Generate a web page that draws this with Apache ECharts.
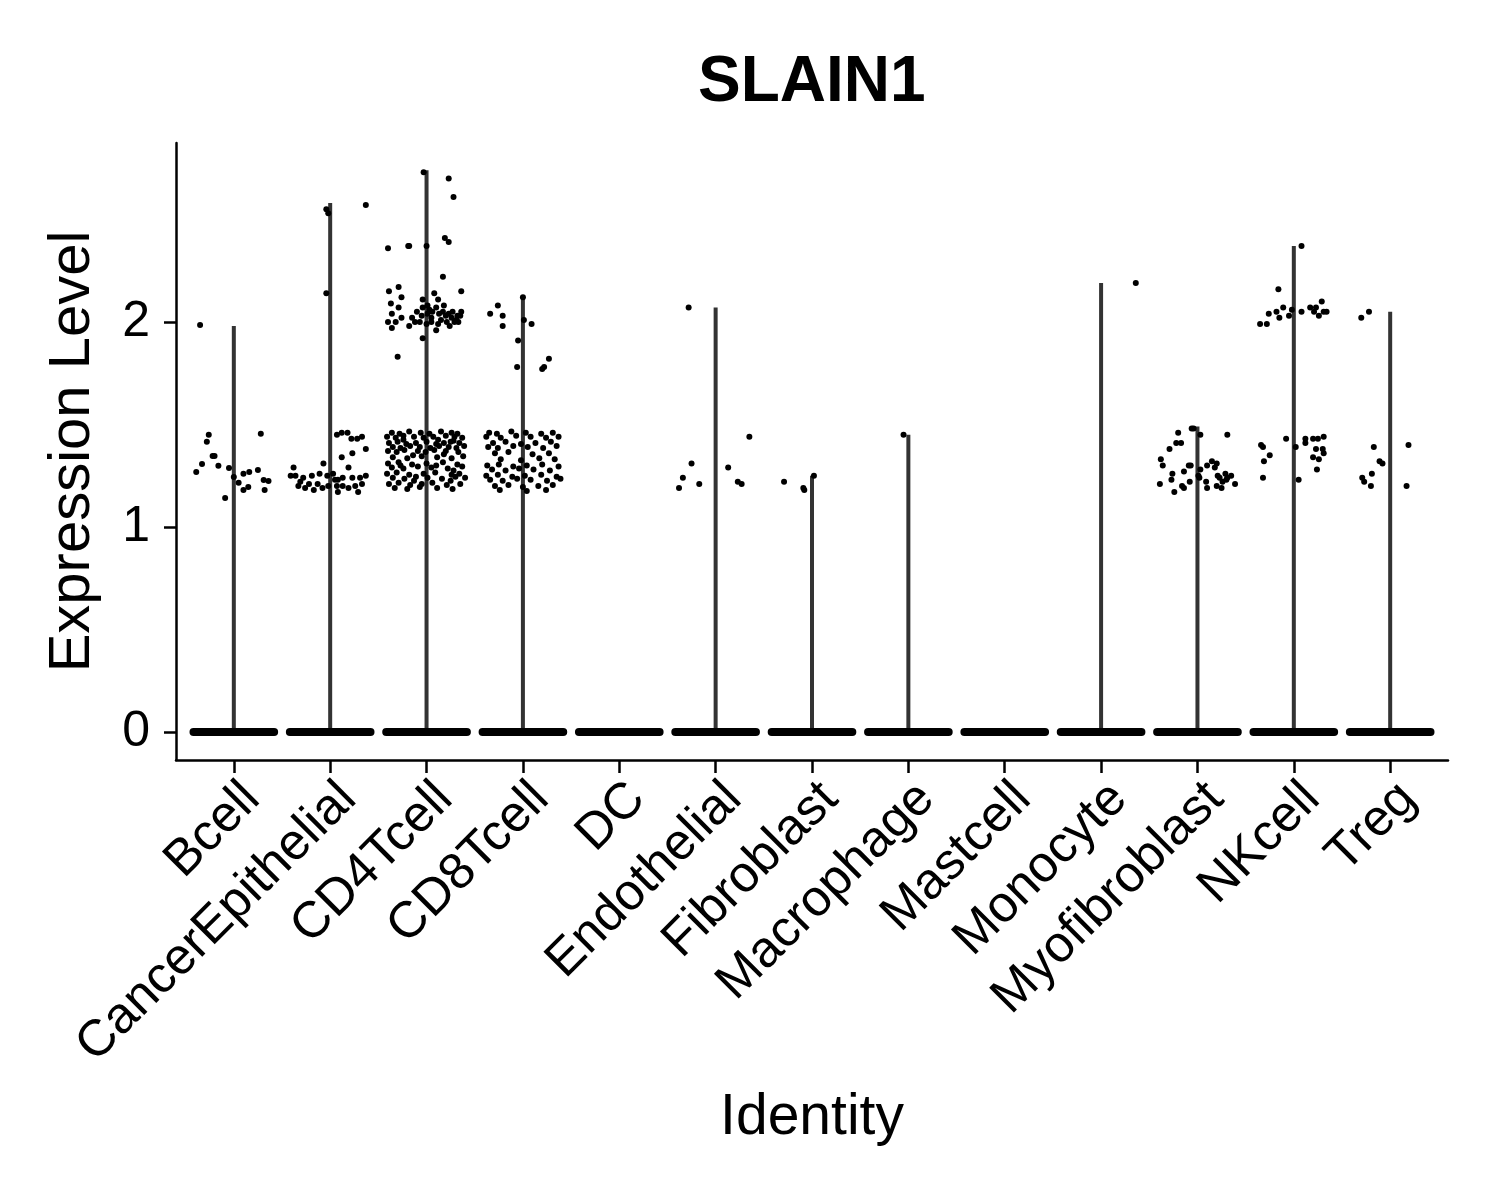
<!DOCTYPE html>
<html>
<head>
<meta charset="utf-8">
<script src="https://cdn.jsdelivr.net/npm/echarts@6/dist/echarts.min.js"></script>
<style>
  html, body { margin: 0; padding: 0; background: #fff; }
  #main { width: 1500px; height: 1200px; }
</style>
</head>
<body>
<div id="main"></div>
<script>
var categories = ["Bcell", "CancerEpithelial", "CD4Tcell", "CD8Tcell", "DC", "Endothelial",
  "Fibroblast", "Macrophage", "Mastcell", "Monocyte", "Myofibroblast", "NKcell", "Treg"];

// top of the (very thin) violin for each identity; null = no violin above 0
var violinMax = [1.98, 2.58, 2.74, 2.12, null, 2.07, 1.25, 1.45, null, 2.19, 1.49, 2.37, 2.05];

// jittered cells with expression > 0, as [jitter, value]
var bcellPts = [[-0.35, 1.985], [-0.26, 1.45], [-0.28, 1.415], [-0.22, 1.346], [-0.2, 1.346],
  [-0.33, 1.307], [-0.39, 1.268], [-0.16, 1.298], [-0.05, 1.288], [-0.09, 1.141], [0, 1.244],
  [0.05, 1.215], [0.1, 1.259], [0.16, 1.268], [0.25, 1.278], [0.15, 1.195], [0.1, 1.18],
  [0.28, 1.454], [0.31, 1.229], [0.36, 1.224], [0.32, 1.18]];

var cancerEpiPts = [[-0.04, 2.55], [-0.02, 2.53], [0.37, 2.57], [-0.04, 2.14],
  [0.07, 1.45], [0.12, 1.46], [0.18, 1.46], [0.22, 1.43], [0.28, 1.43], [0.33, 1.44],
  [0.37, 1.38], [0.12, 1.34], [0.23, 1.36], [-0.38, 1.29], [-0.07, 1.31], [0.19, 1.29],
  [-0.36, 1.25], [-0.28, 1.24], [-0.19, 1.25], [-0.11, 1.26], [-0.03, 1.25], [0.03, 1.26],
  [0.08, 1.23], [0.13, 1.24], [0.31, 1.24], [0.37, 1.25], [-0.33, 1.2], [-0.26, 1.19],
  [-0.22, 1.21], [-0.08, 1.19], [-0.02, 1.2], [0.07, 1.2], [0.13, 1.2], [0.19, 1.19],
  [0.29, 1.17], [0.33, 1.21], [0.08, 1.17], [-0.13, 1.21], [0.05, 1.23], [-0.31, 1.22],
  [-0.17, 1.18], [0.23, 1.24], [0.26, 1.2], [-0.41, 1.25]];

var cd4Pts = [[-0.03, 2.73], [0.23, 2.7], [0.28, 2.61], [-0.4, 2.36], [-0.19, 2.37], [-0.18, 2.37],
  [0, 2.37], [0.19, 2.41], [0.23, 2.39], [0.17, 2.22], [0.36, 2.15], [-0.39, 2.15], [-0.29, 2.17],
  [-0.26, 2.12], [-0.37, 2.09], [-0.29, 2.07], [-0.36, 2.04], [-0.4, 2.0], [-0.36, 1.97],
  [-0.32, 2.0], [-0.26, 2.02], [-0.18, 1.98], [-0.15, 2.02], [-0.04, 2.11], [-0.04, 2.07],
  [0.01, 2.08], [0.08, 2.14], [0.12, 2.11], [0.1, 2.07], [-0.05, 2.03], [0.01, 2.04],
  [0.06, 2.05], [0.13, 2.04], [0.17, 2.05], [0.23, 2.04], [0.32, 2.03], [0.36, 2.05],
  [-0.07, 2.0], [0, 1.99], [0.05, 2.0], [0.1, 1.96], [0.21, 2.0], [0.29, 2.0], [0.33, 2.0],
  [0.26, 2.02], [-0.04, 1.92], [-0.3, 1.83], [0.05, 2.02], [0.15, 2.01], [0.2, 2.03],
  [0.27, 2.05], [0.31, 2.01], [0.35, 2.03], [0.12, 1.99], [0.24, 1.98], [0.03, 2.06],
  [0.18, 2.08], [-0.1, 2.05], [-0.12, 2.0],
  [-0.36, 1.46], [-0.28, 1.455], [-0.18, 1.465], [-0.06, 1.46], [0.03, 1.455], [0.15, 1.465],
  [0.26, 1.46], [0.32, 1.455],
  [-0.41, 1.44], [-0.32, 1.435], [-0.24, 1.445], [-0.13, 1.44], [-0.03, 1.435], [0.07, 1.44],
  [0.2, 1.445], [0.29, 1.44], [0.37, 1.435],
  [-0.39, 1.41], [-0.3, 1.415], [-0.21, 1.405], [-0.11, 1.41], [0, 1.415], [0.1, 1.405],
  [0.18, 1.41], [0.25, 1.415], [0.34, 1.41],
  [-0.35, 1.39], [-0.27, 1.385], [-0.17, 1.395], [-0.07, 1.39], [0.04, 1.385], [0.13, 1.395],
  [0.23, 1.39], [0.31, 1.385], [0.39, 1.395],
  [-0.4, 1.37], [-0.31, 1.365], [-0.23, 1.375], [-0.09, 1.37], [-0.01, 1.365], [0.08, 1.375],
  [0.2, 1.37], [0.33, 1.365],
  [-0.35, 1.34], [-0.2, 1.335], [-0.05, 1.345], [0.11, 1.34], [0.26, 1.335], [0.38, 1.345],
  [-0.4, 1.31], [-0.29, 1.315], [-0.15, 1.305], [0, 1.31], [0.17, 1.315], [0.32, 1.305],
  [-0.36, 1.29], [-0.24, 1.285], [-0.09, 1.295], [0.05, 1.29], [0.22, 1.285], [0.37, 1.295],
  [-0.41, 1.26], [-0.31, 1.265], [-0.18, 1.255], [-0.03, 1.26], [0.09, 1.265], [0.26, 1.255],
  [0.34, 1.26],
  [-0.35, 1.24], [-0.23, 1.235], [-0.11, 1.245], [0.01, 1.24], [0.16, 1.235], [0.3, 1.245],
  [0.4, 1.24],
  [-0.39, 1.21], [-0.29, 1.215], [-0.17, 1.205], [-0.05, 1.21], [0.06, 1.215], [0.21, 1.205],
  [0.35, 1.21],
  [-0.33, 1.19], [-0.2, 1.185], [-0.07, 1.195], [0.11, 1.19], [0.27, 1.185],
  [-0.24, 1.425], [0.12, 1.425], [0.28, 1.42], [-0.14, 1.35], [0.18, 1.355], [-0.27, 1.3],
  [0.1, 1.3], [0.28, 1.275], [-0.13, 1.225], [0.25, 1.225]];

var cd8Pts = [[0, 2.12], [-0.26, 2.08], [-0.34, 2.04], [-0.21, 2.03], [-0.21, 1.98], [0.01, 2.01],
  [0.09, 1.99], [-0.05, 1.91], [0.27, 1.82], [0.22, 1.78], [0.2, 1.77], [-0.06, 1.78],
  [-0.35, 1.46], [-0.27, 1.455], [-0.12, 1.465], [0.03, 1.46], [0.19, 1.455], [0.31, 1.46],
  [-0.38, 1.44], [-0.23, 1.435], [-0.07, 1.445], [0.08, 1.44], [0.24, 1.435], [0.37, 1.44],
  [-0.31, 1.41], [-0.18, 1.415], [-0.02, 1.405], [0.13, 1.41], [0.29, 1.415],
  [-0.36, 1.39], [-0.26, 1.385], [-0.1, 1.395], [0.05, 1.39], [0.21, 1.385], [0.35, 1.395],
  [-0.29, 1.36], [-0.15, 1.365], [0.1, 1.355], [0.27, 1.36],
  [-0.23, 1.33], [-0.02, 1.325], [0.17, 1.335], [0.33, 1.33],
  [-0.37, 1.3], [-0.25, 1.305], [-0.1, 1.295], [0.04, 1.3], [0.2, 1.305], [0.37, 1.295],
  [-0.32, 1.28], [-0.18, 1.275], [-0.04, 1.285], [0.11, 1.28], [0.28, 1.275],
  [-0.38, 1.25], [-0.26, 1.255], [-0.11, 1.245], [0.02, 1.25], [0.19, 1.255], [0.35, 1.245],
  [-0.34, 1.23], [-0.21, 1.225], [-0.06, 1.235], [0.08, 1.23], [0.25, 1.225], [0.39, 1.235],
  [-0.29, 1.2], [-0.15, 1.205], [0, 1.195], [0.16, 1.2], [0.31, 1.205],
  [-0.24, 1.18], [0.04, 1.175], [0.24, 1.18]];

var dcPts = [];

var endothelialPts = [[-0.28, 2.07], [-0.25, 1.31], [-0.34, 1.24], [-0.38, 1.19], [-0.17, 1.21],
  [0.35, 1.44], [0.13, 1.29], [0.23, 1.22], [0.27, 1.21]];

var fibroblastPts = [[-0.29, 1.22], [-0.09, 1.19], [-0.08, 1.18], [0.02, 1.25]];

var macrophagePts = [[-0.05, 1.45]];

var mastcellPts = [];

var monocytePts = [[0.36, 2.19]];

var myofibroblastPts = [[-0.06, 1.48], [-0.04, 1.48], [-0.2, 1.46], [0.03, 1.45], [0.31, 1.45],
  [-0.22, 1.41], [-0.17, 1.41], [-0.29, 1.38], [-0.38, 1.33], [-0.36, 1.3], [-0.26, 1.26],
  [-0.27, 1.23], [-0.39, 1.21], [-0.24, 1.17], [-0.16, 1.2], [-0.14, 1.19], [-0.14, 1.27],
  [-0.09, 1.3], [-0.07, 1.3], [-0.08, 1.22], [0.03, 1.28], [0.02, 1.24], [0.1, 1.3],
  [0.15, 1.32], [0.2, 1.31], [0.18, 1.29], [0.09, 1.22], [0.1, 1.19], [0.21, 1.25], [0.23, 1.24],
  [0.29, 1.26], [0.31, 1.24], [0.35, 1.25], [0.26, 1.22], [0.3, 1.23], [0.39, 1.21],
  [0.2, 1.2], [0.25, 1.19], [0.01, 1.25]];

var nkcellPts = [[0.08, 2.37], [-0.16, 2.16], [-0.35, 1.99], [-0.28, 1.99], [-0.26, 2.04],
  [-0.18, 2.05], [-0.11, 2.07], [-0.15, 2.02], [-0.05, 2.03], [-0.02, 2.06], [0.08, 2.05],
  [0.17, 2.07], [0.23, 2.07], [0.29, 2.1], [0.21, 2.05], [0.26, 2.03], [0.31, 2.05], [0.34, 2.05],
  [-0.34, 1.4], [-0.32, 1.39], [-0.25, 1.35], [-0.31, 1.32], [-0.32, 1.24], [-0.08, 1.43],
  [0.02, 1.39], [0.05, 1.23], [0.12, 1.43], [0.2, 1.43], [0.25, 1.43], [0.31, 1.44],
  [0.12, 1.41], [0.23, 1.38], [0.3, 1.38], [0.31, 1.36], [0.2, 1.34], [0.26, 1.33], [0.24, 1.28]];

var tregPts = [[-0.3, 2.02], [-0.22, 2.05], [-0.17, 1.39], [0.19, 1.4], [-0.11, 1.32], [-0.08, 1.31],
  [-0.19, 1.26], [-0.29, 1.24], [-0.27, 1.22], [-0.2, 1.2], [0.17, 1.2]];

var jitterPts = [bcellPts, cancerEpiPts, cd4Pts, cd8Pts, dcPts, endothelialPts, fibroblastPts,
  macrophagePts, mastcellPts, monocytePts, myofibroblastPts, nkcellPts, tregPts];

var yTicks = [0, 1, 2];

var scatterData = [];
jitterPts.forEach(function (pts, i) {
  pts.forEach(function (p) {
    scatterData.push([i + 1 + p[0], p[1]]);
  });
});

var violinData = [];
violinMax.forEach(function (m, i) {
  if (m !== null) violinData.push([i + 1, m]);
});

var zeroData = categories.map(function (c, i) { return [i + 1, 0]; });
var catTicks = categories.map(function (c, i) { return i + 1; });

var FONT = "Liberation Sans";

var myChart = echarts.init(document.getElementById("main"), null, { renderer: "canvas" });

var option = {
  backgroundColor: "#ffffff",
  animation: false,
  title: {
    text: "SLAIN1",
    left: 693,
    top: 46,
    textStyle: { fontFamily: FONT, fontWeight: "bold", fontSize: 64, color: "#000" },
  },
  grid: { left: 176, right: 52, top: 143, bottom: 440, containLabel: false },
  xAxis: {
    type: "value",
    min: 0.4,
    max: 13.6,
    name: "Identity",
    nameLocation: "middle",
    nameGap: 330,
    nameTextStyle: { fontFamily: FONT, fontSize: 57, color: "#000" },
    axisLine: { show: true, onZero: false, lineStyle: { color: "#000", width: 2.5 } },
    axisTick: { show: true, customValues: catTicks, length: 13, lineStyle: { color: "#000", width: 2.5 } },
    axisLabel: {
      customValues: catTicks,
      formatter: function (v) { return categories[Math.round(v) - 1]; },
      rotate: 45,
      align: "right",
      verticalAlign: "top",
      margin: 13,
      fontFamily: FONT,
      fontSize: 51,
      color: "#000",
    },
    splitLine: { show: false },
  },
  yAxis: {
    type: "value",
    min: -0.137,
    max: 2.873,
    name: "Expression Level",
    nameLocation: "middle",
    nameGap: 74,
    nameRotate: 90,
    nameTextStyle: { fontFamily: FONT, fontSize: 58, color: "#000" },
    axisLine: { show: true, onZero: false, lineStyle: { color: "#000", width: 2.5 } },
    axisTick: { show: true, customValues: yTicks, length: 12, lineStyle: { color: "#000", width: 2.5 } },
    axisLabel: {
      customValues: yTicks,
      margin: 26,
      fontFamily: FONT,
      fontSize: 50,
      color: "#000",
    },
    splitLine: { show: false },
  },
  series: [
    {
      type: "custom",
      data: violinData,
      z: 2,
      renderItem: function (params, api) {
        var x = api.value(0);
        var p0 = api.coord([x, 0]);
        var p1 = api.coord([x, api.value(1)]);
        return {
          type: "line",
          shape: { x1: p0[0], y1: p0[1], x2: p1[0], y2: p1[1] },
          style: { stroke: "#333333", lineWidth: 4 },
        };
      },
    },
    {
      type: "custom",
      data: zeroData,
      z: 3,
      renderItem: function (params, api) {
        var x = api.value(0);
        var l = api.coord([x - 0.46, 0]);
        var r = api.coord([x + 0.46, 0]);
        return {
          type: "rect",
          shape: { x: l[0], y: l[1] - 4, width: r[0] - l[0], height: 8, r: 4 },
          style: { fill: "#000" },
        };
      },
    },
    {
      type: "scatter",
      data: scatterData,
      symbol: "circle",
      symbolSize: 6,
      z: 4,
      itemStyle: { color: "#000", opacity: 1 },
    },
  ],
};

myChart.setOption(option);
window.addEventListener("resize", myChart.resize);
</script>
</body>
</html>
